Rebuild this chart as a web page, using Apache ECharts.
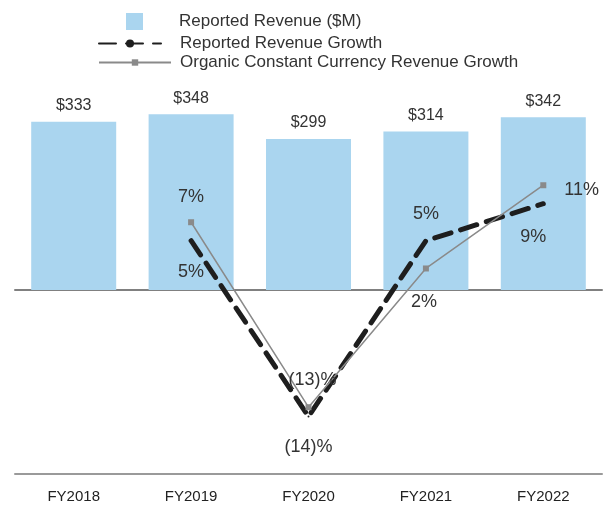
<!DOCTYPE html>
<html>
<head>
<meta charset="utf-8">
<script src="https://cdn.jsdelivr.net/npm/echarts/dist/echarts.min.js"></script>
<style>
  html, body { margin: 0; padding: 0; background: #fff; }
  #main { width: 608px; height: 509px; }
</style>
</head>
<body>
<div id="main"></div>
<script>
var years = ['FY2018', 'FY2019', 'FY2020', 'FY2021', 'FY2022'];
var revenue = [333, 348, 299, 314, 342];
var reportedGrowth = [null, 5, -14, 5, 9];
var organicGrowth = [null, 7, -13, 2, 11];

// label placement per point (style only)
var reportedLabelPos = [null, ['bottom', 21, 0, 0], ['bottom', 21, 0, 0], ['top', 17, 0, 0], ['bottom', 23, -10, 0]];
var organicLabelPos = [null, ['top', 13, 0, 0], ['top', 15, 4, 0], ['bottom', 22, -2, 0], ['right', 18, 0, 5]];

var font = 'Liberation Sans, Arial, sans-serif';

function pct(v) {
  return v < 0 ? '(' + Math.abs(v) + ')%' : v + '%';
}

function withLabels(values, pos) {
  return values.map(function (v, i) {
    if (v === null) return { value: null };
    return {
      value: v,
      label: {
        position: pos[i][0],
        distance: pos[i][1],
        offset: [pos[i][2], pos[i][3]]
      }
    };
  });
}

var chart = echarts.init(document.getElementById('main'), null, { renderer: 'canvas' });

function legendText(padLeft) {
  return { color: '#333', fontSize: 17, fontFamily: font, padding: [0, 0, 0, padLeft] };
}

var option = {
  animation: false,
  backgroundColor: '#fff',
  legend: [{
    left: 121, top: 8, orient: 'vertical',
    itemWidth: 17, itemHeight: 17,
    textStyle: legendText(31),
    data: [{ name: 'Reported Revenue ($M)', icon: 'rect' }]
  }, {
    left: 93, top: 30, orient: 'vertical',
    itemWidth: 62, itemHeight: 10,
    textStyle: legendText(14),
    data: ['Reported Revenue Growth']
  }, {
    left: 93, top: 49, orient: 'vertical',
    itemWidth: 72, itemHeight: 8,
    textStyle: legendText(4),
    data: ['Organic Constant Currency Revenue Growth']
  }],
  grid: { left: 15, right: 6, top: 60, bottom: 35 },
  xAxis: [{
    type: 'category',
    data: years,
    axisLine: { onZero: true, onZeroAxisIndex: 0, lineStyle: { color: '#808080', width: 2 } },
    axisTick: { show: false },
    axisLabel: { show: false },
    splitLine: { show: false }
  }, {
    type: 'category',
    data: years,
    position: 'bottom',
    axisLine: { onZero: false, lineStyle: { color: '#9a9a9a', width: 2 } },
    axisTick: { show: false },
    axisLabel: { color: '#222', fontSize: 15, fontFamily: font, margin: 15 },
    splitLine: { show: false }
  }],
  yAxis: [{
    type: 'value',
    min: -364.4,
    max: 455.4,
    show: false,
    splitLine: { show: false }
  }, {
    type: 'value',
    min: -20.22,
    max: 24.54,
    show: false,
    splitLine: { show: false }
  }],
  series: [{
    name: 'Reported Revenue ($M)',
    type: 'bar',
    xAxisIndex: 0,
    yAxisIndex: 0,
    barCategoryGap: '27.6%',
    itemStyle: { color: '#aad5ef' },
    label: {
      show: true,
      position: 'top',
      distance: 8,
      color: '#333',
      fontSize: 16,
      fontFamily: font,
      formatter: function (p) { return '$' + p.value; }
    },
    data: revenue
  }, {
    name: 'Reported Revenue Growth',
    type: 'line',
    xAxisIndex: 0,
    yAxisIndex: 1,
    symbol: 'circle',
    symbolSize: 2,
    z: 4,
    itemStyle: { color: '#1e1e1e' },
    lineStyle: { color: '#1e1e1e', width: 5, type: [17, 10], cap: 'round' },
    label: {
      show: true,
      color: '#333',
      fontSize: 18,
      fontFamily: font,
      formatter: function (p) { return pct(p.value); }
    },
    data: withLabels(reportedGrowth, reportedLabelPos)
  }, {
    name: 'Organic Constant Currency Revenue Growth',
    type: 'line',
    xAxisIndex: 0,
    yAxisIndex: 1,
    symbol: 'rect',
    symbolSize: 6,
    z: 5,
    itemStyle: { color: '#8a8a8a' },
    lineStyle: { color: '#8a8a8a', width: 1.5 },
    label: {
      show: true,
      color: '#333',
      fontSize: 18,
      fontFamily: font,
      formatter: function (p) { return pct(p.value); }
    },
    data: withLabels(organicGrowth, organicLabelPos)
  }]
};

chart.setOption(option);
</script>
</body>
</html>
